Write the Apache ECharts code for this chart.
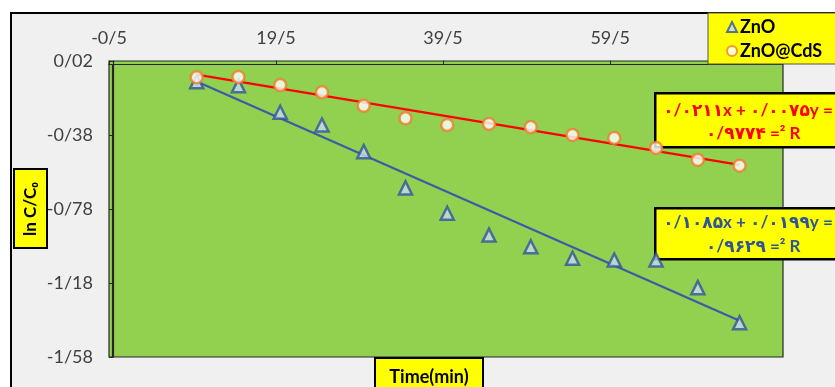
<!DOCTYPE html>
<html>
<head>
<meta charset="utf-8">
<script src="https://cdn.jsdelivr.net/npm/echarts@6/dist/echarts.min.js"></script>
<style>
  html, body { margin: 0; padding: 0; background: #fff; }
  #chart { width: 835px; height: 387px; }
</style>
</head>
<body>
<div id="chart"></div>
<script>
// Sampling times (min)
const times = [10, 15, 20, 25, 30, 35, 40, 45, 50, 55, 60, 65, 70, 75];
// ln(C/C0) for each catalyst
const lnZnO    = [-0.092, -0.114, -0.257, -0.326, -0.470, -0.666, -0.803, -0.921, -0.984, -1.046, -1.056, -1.056, -1.205, -1.395];
const lnZnOCdS = [-0.068, -0.066, -0.110, -0.149, -0.222, -0.290, -0.326, -0.320, -0.337, -0.380, -0.396, -0.450, -0.515, -0.546];
// Linear fits [slope, intercept] and R²
const fitZnO    = [-0.0199, 0.1085];
const fitZnOCdS = [-0.0075, 0.0211];
const r2ZnO = '۰/۹۶۲۹';
const r2ZnOCdS = '۰/۹۷۷۴';
// Axis tick positions
const xTicks = [-0.5, 19.5, 39.5, 59.5];
const yTicks = [0.02, -0.38, -0.78, -1.18, -1.58];

const pairs = (xs, ys) => xs.map((x, i) => [x, ys[i]]);
const fitLine = (f) => [times[0], times[times.length - 1]].map(t => [t, f[0] * t + f[1]]);
const fmt = v => String(v).replace('.', '/');

const FONT = 'Lato, "DejaVu Sans", sans-serif';
const BLUE = '#2F5597';

const chart = echarts.init(document.getElementById('chart'), null, { renderer: 'canvas' });

chart.setOption({
  backgroundColor: '#F0F0F0',
  animation: false,
  grid: {
    left: 109, top: 61, right: 52, bottom: 30,
    show: true, backgroundColor: '#92D050', borderColor: '#262626', borderWidth: 1.2
  },
  xAxis: {
    type: 'value', position: 'top', min: -0.5, max: 80.2,
    axisLine: { show: true, lineStyle: { color: '#262626', width: 1.2 } },
    axisTick: { show: true, length: 4, customValues: xTicks, lineStyle: { color: '#262626' } },
    axisLabel: { customValues: xTicks, formatter: fmt, margin: 14, color: '#404040', fontSize: 18, fontFamily: FONT },
    splitLine: { show: false }
  },
  yAxis: {
    type: 'value', min: -1.58, max: 0.02,
    axisLine: { show: true, lineStyle: { color: '#262626', width: 1.2 } },
    axisTick: { show: true, length: 4, customValues: yTicks, lineStyle: { color: '#262626' } },
    axisLabel: { customValues: yTicks, formatter: fmt, margin: 16, color: '#404040', fontSize: 18, fontFamily: FONT },
    splitLine: { show: false }
  },
  legend: {
    orient: 'vertical', left: 708, top: 13,
    data: ['ZnO', 'ZnO@CdS'],
    backgroundColor: '#FFFF00', borderColor: '#555', borderWidth: 1,
    padding: [5, 30, 4, 18], itemGap: 6, itemWidth: 10, itemHeight: 10,
    textStyle: { color: '#000', fontSize: 18, fontWeight: 'bold', fontFamily: FONT, padding: [0, 0, 0, -2] }
  },
  series: [
    {
      name: 'fitZnO', type: 'line', data: fitLine(fitZnO), symbol: 'none',
      lineStyle: { color: '#3A5BA8', width: 2.2 }, silent: true, z: 1
    },
    {
      name: 'fitZnOCdS', type: 'line', data: fitLine(fitZnOCdS), symbol: 'none',
      lineStyle: { color: '#FF0000', width: 2.2 }, silent: true, z: 1
    },
    {
      name: 'ZnO', type: 'scatter', data: pairs(times, lnZnO), symbol: 'triangle', symbolSize: 13,
      itemStyle: { color: '#C9D8EE', borderColor: BLUE, borderWidth: 2.5 }, z: 3
    },
    {
      name: 'ZnO@CdS', type: 'scatter', data: pairs(times, lnZnOCdS), symbol: 'circle', symbolSize: 12,
      itemStyle: { color: '#FFFFFF', borderColor: '#ED7D31', borderWidth: 2.5 }, z: 4
    }
  ],
  graphic: [
    // white margin and the chart frame
    { type: 'rect', shape: { x: 0, y: 0, width: 835, height: 12 }, style: { fill: '#fff' }, silent: true },
    { type: 'rect', shape: { x: 0, y: 0, width: 10, height: 387 }, style: { fill: '#fff' }, silent: true },
    { type: 'polyline', shape: { points: [[11, 387], [11, 13], [835, 13]] }, style: { stroke: '#000', lineWidth: 2, fill: null }, silent: true },
    // inner frame of the plot area
    { type: 'polyline', shape: { points: [[112.5, 357], [112.5, 64.5], [783, 64.5]] }, style: { stroke: '#262626', lineWidth: 1.2, fill: null }, silent: true },
    // y-axis title
    {
      type: 'group', left: 13, top: 168, silent: true,
      children: [
        { type: 'rect', shape: { x: 0, y: 0, width: 33, height: 79 }, style: { fill: '#FFFF00', stroke: '#000', lineWidth: 2 } },
        { type: 'text', x: 17, y: 40, rotation: Math.PI / 2,
          style: { text: 'ln C/C₀', fill: '#000', font: 'bold 17px ' + FONT, align: 'center', verticalAlign: 'middle' } }
      ]
    },
    // x-axis title
    {
      type: 'group', left: 374, top: 357, silent: true,
      children: [
        { type: 'rect', shape: { x: 0, y: 0, width: 108, height: 40 }, style: { fill: '#FFFF00', stroke: '#000', lineWidth: 2 } },
        { type: 'text', x: 54, y: 19,
          style: { text: 'Time(min)', fill: '#000', font: 'bold 18px ' + FONT, align: 'center', verticalAlign: 'middle' } }
      ]
    },
    // fit equation for ZnO@CdS
    {
      type: 'group', left: 654, top: 92, silent: true,
      children: [
        { type: 'rect', shape: { x: 0, y: 0, width: 200, height: 54 }, style: { fill: '#FFFF00', stroke: '#000', lineWidth: 2.5 } },
        { type: 'text', x: 98, y: 17,
          style: { text: '۰/۰۲۱۱x + ۰/۰۰۷۵y = -', fill: '#FF0000', font: 'bold 17px ' + FONT, align: 'center', verticalAlign: 'middle' } },
        { type: 'text', x: 98, y: 40,
          style: { text: r2ZnOCdS + ' =² R', fill: '#FF0000', font: 'bold 17px ' + FONT, align: 'center', verticalAlign: 'middle' } }
      ]
    },
    // fit equation for ZnO
    {
      type: 'group', left: 654, top: 207, silent: true,
      children: [
        { type: 'rect', shape: { x: 0, y: 0, width: 200, height: 51 }, style: { fill: '#FFFF00', stroke: '#000', lineWidth: 2.5 } },
        { type: 'text', x: 98, y: 14,
          style: { text: '۰/۱۰۸۵x + ۰/۰۱۹۹y = -', fill: BLUE, font: 'bold 17px ' + FONT, align: 'center', verticalAlign: 'middle' } },
        { type: 'text', x: 98, y: 38,
          style: { text: r2ZnO + ' =² R', fill: BLUE, font: 'bold 17px ' + FONT, align: 'center', verticalAlign: 'middle' } }
      ]
    }
  ]
});
</script>
</body>
</html>
